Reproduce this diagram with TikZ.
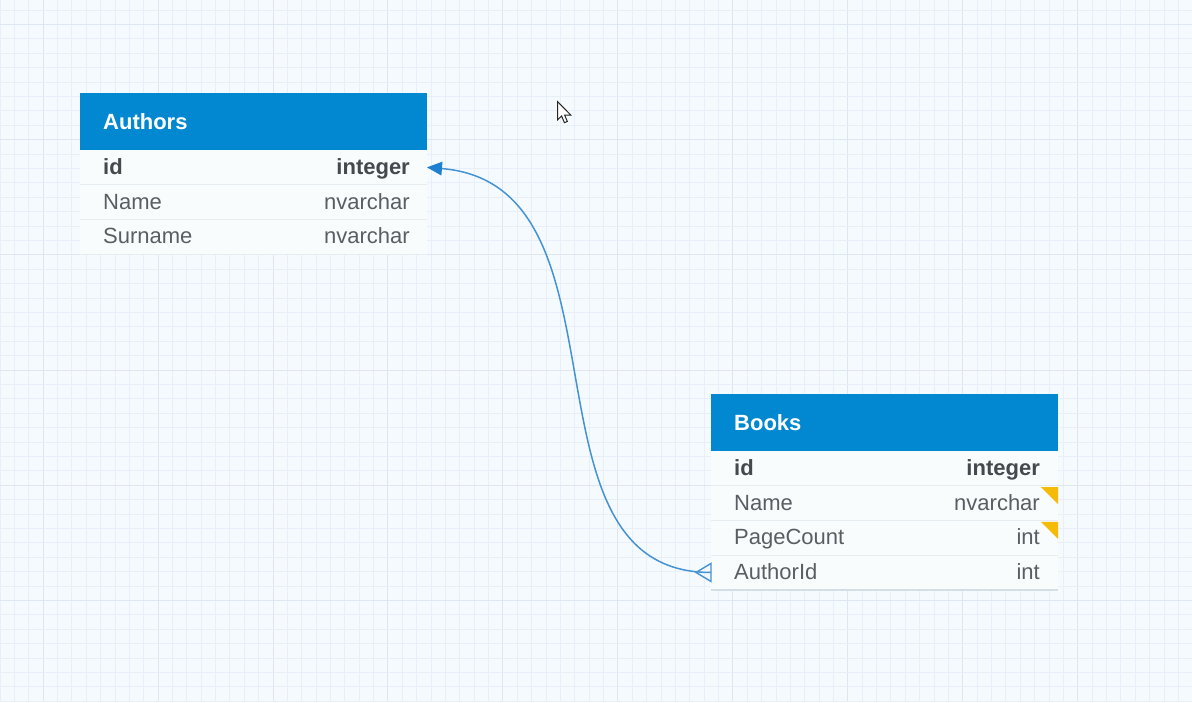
\documentclass[tikz,border=0pt]{standalone}
\usepackage{fontspec}
\setmainfont{Liberation Sans}
\usetikzlibrary{arrows.meta}
\definecolor{bg}{HTML}{F5FAFE}
\definecolor{gridminor}{HTML}{E9EFF8}
\definecolor{gridmajor}{HTML}{DEE6F2}
\definecolor{hdrblue}{HTML}{0288D1}
\definecolor{rowbg}{HTML}{F8FCFD}
\definecolor{sepline}{HTML}{E6EDF0}
\definecolor{botline}{HTML}{D3DEE6}
\definecolor{txt}{HTML}{5A5E63}
\definecolor{txtb}{HTML}{45484C}
\definecolor{conn}{HTML}{4593D2}
\definecolor{tipblue}{HTML}{1F80CF}
\definecolor{yel}{HTML}{F6BB07}
\tikzset{
  hdr/.style={fill=hdrblue, minimum width=347pt, minimum height=57pt, anchor=north west, inner sep=0pt, outer sep=0pt},
  rowbox/.style={fill=rowbg, minimum width=347pt, minimum height=34.7pt, anchor=north west, inner sep=0pt, outer sep=0pt},
  hdrtext/.style={anchor=base west, inner sep=0pt, text=white, font=\fontsize{22}{26}\selectfont\bfseries, xshift=23pt, yshift=-7.5pt},
  fname/.style={anchor=base west, inner sep=0pt, text=txt, font=\fontsize{22}{26}\selectfont, xshift=23pt, yshift=-7pt},
  ftype/.style={anchor=base east, inner sep=0pt, text=txt, font=\fontsize{22}{26}\selectfont, xshift=-17pt, yshift=-7pt},
  fnameb/.style={fname, text=txtb, font=\fontsize{22}{26}\selectfont\bfseries},
  ftypeb/.style={ftype, text=txtb, font=\fontsize{22}{26}\selectfont\bfseries},
  rowsep/.style={draw=sepline, line width=1pt},
  relline/.style={draw=conn, line width=1.5pt},
  flag/.style={fill=yel}
}
\begin{document}
\begin{tikzpicture}[x=1pt,y=-1pt]
\useasboundingbox (0,0) rectangle (1192,702);
\fill[bg] (0,0) rectangle (1192,702);
% grid
\foreach \k in {0,...,83} {
  \pgfmathtruncatemacro{\m}{mod(\k,8)}
  \ifnum\m=3
    \draw[gridmajor, line width=1pt] ({14.37*\k},0) -- ({14.37*\k},702);
  \else
    \draw[gridminor, line width=0.9pt] ({14.37*\k},0) -- ({14.37*\k},702);
  \fi
}
\foreach \k in {0,...,48} {
  \pgfmathtruncatemacro{\m}{mod(\k,8)}
  \ifnum\m=1
    \draw[gridmajor, line width=1pt] (0,{10+14.4*\k}) -- (1192,{10+14.4*\k});
  \else
    \draw[gridminor, line width=0.9pt] (0,{10+14.4*\k}) -- (1192,{10+14.4*\k});
  \fi
}

% Authors table
\node[hdr] (ah) at (80,93) {};
\node[hdrtext] (aht) at (ah.west) {Authors};
\node[rowbox] (aid) at (ah.south west) {};
\node[rowbox] (aname) at (aid.south west) {};
\node[rowbox] (asur) at (aname.south west) {};
\draw[rowsep] (aid.south west) -- (aid.south east);
\draw[rowsep] (aname.south west) -- (aname.south east);
\draw[rowsep] (asur.south west) -- (asur.south east);
\node[fnameb] (aidn) at (aid.west) {id};
\node[ftypeb] (aidt) at (aid.east) {integer};
\node[fname] (anamen) at (aname.west) {Name};
\node[ftype] (anamet) at (aname.east) {nvarchar};
\node[fname] (asurn) at (asur.west) {Surname};
\node[ftype] (asurt) at (asur.east) {nvarchar};

% Books table
\node[hdr] (bh) at (711,394) {};
\node[hdrtext] (bht) at (bh.west) {Books};
\node[rowbox] (bid) at (bh.south west) {};
\node[rowbox] (bname) at (bid.south west) {};
\node[rowbox] (bpage) at (bname.south west) {};
\node[rowbox] (baid) at (bpage.south west) {};
\draw[rowsep] (bid.south west) -- (bid.south east);
\draw[rowsep] (bname.south west) -- (bname.south east);
\draw[rowsep] (bpage.south west) -- (bpage.south east);
\draw[draw=botline, line width=1.5pt] (baid.south west) -- (baid.south east);
\node[fnameb] (bidn) at (bid.west) {id};
\node[ftypeb, xshift=-1pt] (bidt) at (bid.east) {integer};
\node[fname] (bnamen) at (bname.west) {Name};
\node[ftype, xshift=-1pt] (bnamet) at (bname.east) {nvarchar};
\node[fname] (bpagen) at (bpage.west) {PageCount};
\node[ftype, xshift=-1pt] (bpaget) at (bpage.east) {int};
\node[fname] (baidn) at (baid.west) {AuthorId};
\node[ftype, xshift=-1pt] (baidt) at (baid.east) {int};
\fill[flag] ([yshift=-1.5pt]bname.north east) -- ++(-17,0) -- ++(17,17) -- cycle;
\fill[flag] ([yshift=-1.5pt]bpage.north east) -- ++(-17,0) -- ++(17,17) -- cycle;

% relation
\draw[relline, {Triangle[length=15pt,width=14pt,fill=tipblue,line width=0pt]}-]
  (aid.east) .. controls (640,185) and (510,573) .. (baid.west);
\coordinate (cf) at ([xshift=-15pt]baid.west);
\draw[relline, line width=1.4pt, line join=miter]
  ([yshift=9pt]baid.west) -- (cf) -- ([yshift=-9pt]baid.west) -- cycle;

% mouse pointer
\draw[draw=black!85, fill=white, line width=1pt, line join=miter]
  (557.5,101.5) -- ++(0,18.4) -- ++(4.1,-3.9) -- ++(2.8,6.7) -- ++(2.9,-1.3)
  -- ++(-2.7,-6.4) -- ++(6.1,0) -- cycle;
\end{tikzpicture}
\end{document}
